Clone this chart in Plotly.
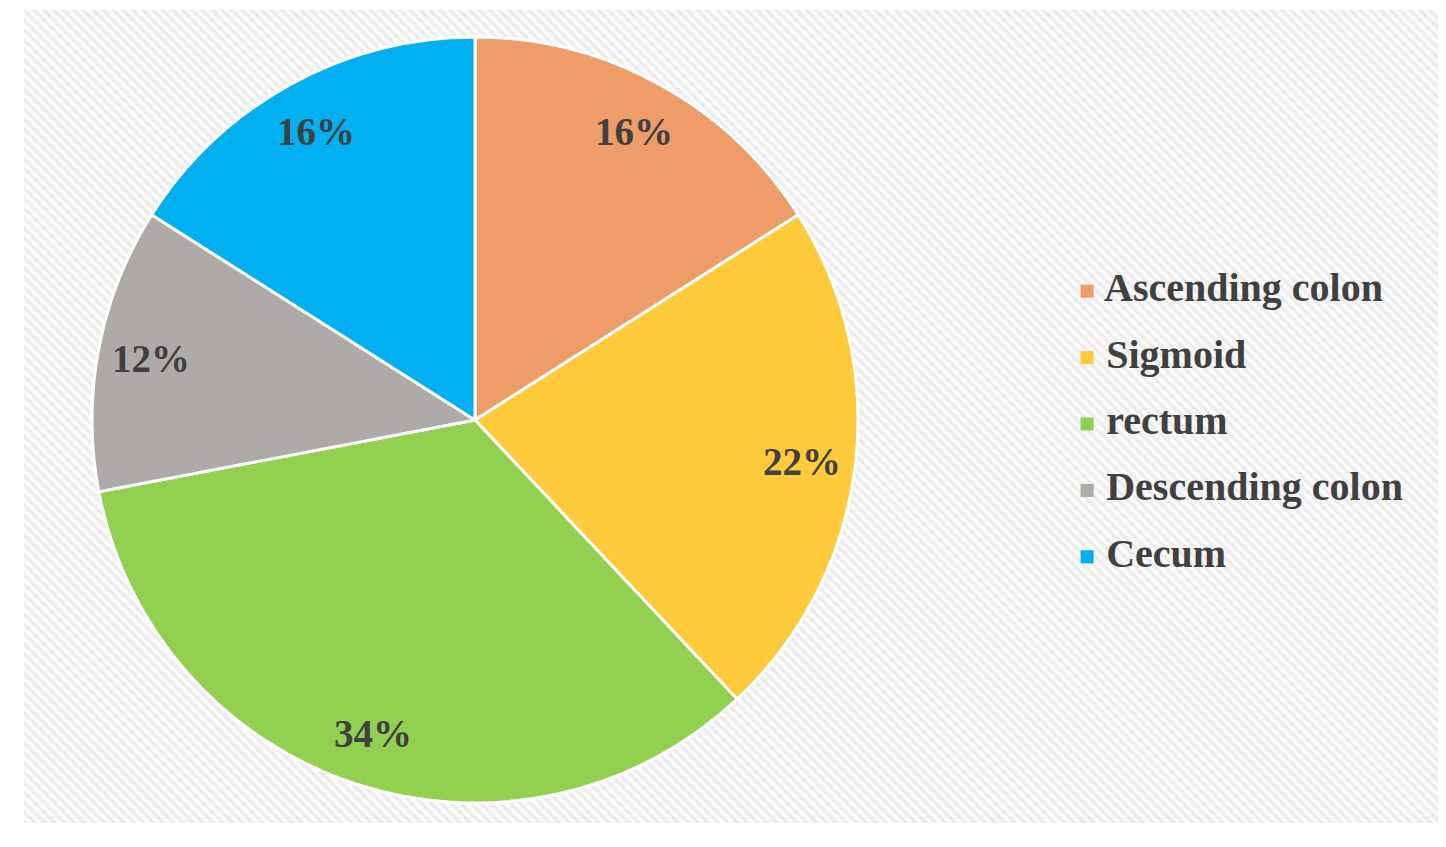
import math
import plotly.graph_objects as go

# tumour location shares (%)
locations = ["Ascending colon", "Sigmoid", "rectum", "Descending colon", "Cecum"]
shares = [16, 22, 34, 12, 16]
slice_colors = ["#EF9D68", "#FFCB3A", "#92D050", "#AEAAAA", "#00B0F0"]

W, H = 1446, 847
OFF = 8  # page body margin shifts the figure by this many pixels


def fx(px):
    return (px - OFF) / W


def fy(py):
    return (H - (py - OFF)) / H


cx_px, cy_px, r_px = 475, 420, 383   # pie centre / radius in pixels (screen)
label_font = dict(family="Liberation Serif", size=39, color="#404040")

fig = go.Figure()

# hatched chart-area background
fig.add_trace(go.Scatter(
    x=[0, 1, 1, 0, 0], y=[0, 0, 1, 1, 0],
    mode="lines", fill="toself", line=dict(width=0),
    fillcolor="rgba(0,0,0,0)",
    fillpattern=dict(shape="\\", size=7, solidity=0.45,
                     fgcolor="#dcdcdc", bgcolor="#fafafa"),
    hoverinfo="skip", showlegend=False, xaxis="x", yaxis="y",
))

fig.add_trace(go.Pie(
    labels=locations, values=shares, sort=False, direction="clockwise",
    rotation=0, marker=dict(colors=slice_colors, line=dict(color="white", width=3)),
    textinfo="none", hoverinfo="label+percent", showlegend=False,
    domain=dict(x=[fx(cx_px - r_px), fx(cx_px + r_px)],
                y=[fy(cy_px + r_px), fy(cy_px - r_px)]),
))

# percentage labels placed along each slice's mid angle
total = sum(shares)
cum = 0
for v in shares:
    mid = (cum + v / 2) / total * 2 * math.pi
    cum += v
    rr = 0.86 * r_px
    fig.add_annotation(
        x=fx(cx_px + rr * math.sin(mid)),
        y=fy(cy_px - rr * math.cos(mid)),
        xref="paper", yref="paper", showarrow=False,
        xanchor="center", yanchor="middle",
        text=f"<b>{v / total:.0%}</b>", font=label_font,
    )

# legend drawn as square markers + text
fig.add_trace(go.Scatter(
    x=[0.077] * len(locations), y=list(range(len(locations))),
    mode="markers+text", text=[f"<b> {t}</b>" for t in locations],
    textposition="middle right",
    textfont=dict(family="Liberation Serif", size=40, color="#404040"),
    marker=dict(symbol="square", size=13, color=slice_colors),
    hoverinfo="skip", showlegend=False, xaxis="x2", yaxis="y2", cliponaxis=False,
))

fig.add_shape(type="rect", xref="paper", yref="paper",
              x0=fx(1060), x1=fx(1412), y0=fy(590), y1=fy(258),
              fillcolor="rgba(255,255,255,0.5)", line=dict(width=0), layer="below")

hidden = dict(visible=False, fixedrange=True)
fig.update_layout(
    width=W, height=H,
    margin=dict(l=0, r=0, t=0, b=0),
    paper_bgcolor="white", plot_bgcolor="rgba(0,0,0,0)",
    xaxis=dict(domain=[fx(24), fx(1438)], range=[0, 1], **hidden),
    yaxis=dict(domain=[fy(823), fy(10)], range=[0, 1], **hidden),
    xaxis2=dict(domain=[fx(1060), fx(1412)], range=[0, 1], anchor="y2", **hidden),
    yaxis2=dict(domain=[fy(590), fy(258)], range=[4.5, -0.5],
                anchor="x2", **hidden),
)

fig.write_html("out.html")
